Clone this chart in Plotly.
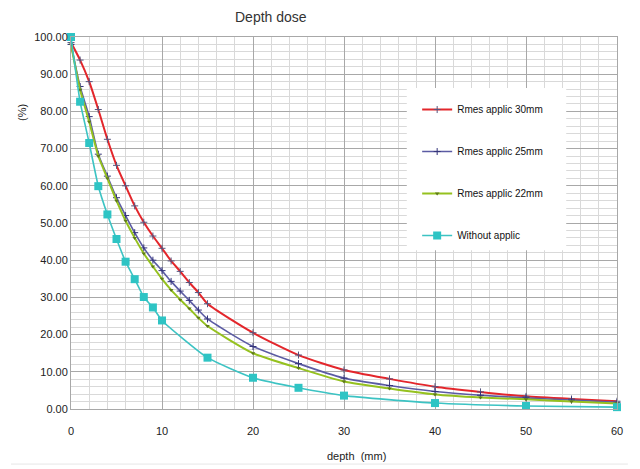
import plotly.graph_objects as go

# Depth (mm) sampling points
depth_applic = [0, 1, 2, 3, 4, 5, 6, 7, 8, 9, 10, 11, 12, 13, 14, 15,
                20, 25, 30, 35, 40, 45, 50, 55, 60]
dose_30mm = [98.5, 93.8, 88.0, 80.5, 72.5, 65.5, 60.0, 54.6, 50.2, 46.5, 43.2,
             39.8, 37.0, 34.0, 31.3, 28.3, 20.5, 14.5, 10.5, 8.1, 6.0, 4.6,
             3.4, 2.7, 2.1]
dose_25mm = [98.0, 86.7, 78.6, 68.5, 62.6, 56.8, 52.0, 47.4, 43.3, 40.0, 37.2,
             34.3, 31.7, 29.2, 26.6, 24.2, 16.8, 12.2, 8.3, 6.3, 4.7, 3.7,
             3.0, 2.4, 1.8]
dose_22mm = [98.0, 85.8, 77.2, 68.0, 62.0, 56.0, 50.6, 46.0, 41.8, 38.3, 35.0,
             32.0, 29.4, 27.0, 24.5, 22.3, 15.0, 11.0, 7.4, 5.5, 3.9, 3.1,
             2.6, 2.0, 1.5]
depth_without = [0, 1, 2, 3, 4, 5, 6, 7, 8, 9, 10, 15, 20, 25, 30, 40, 50, 60]
dose_without = [100.0, 82.6, 71.5, 59.9, 52.3, 45.7, 39.6, 34.9, 30.1, 27.3,
                23.8, 13.8, 8.4, 5.7, 3.6, 1.6, 0.8, 0.5]

series_names = ["Rmes applic 30mm", "Rmes applic 25mm", "Rmes applic 22mm",
                "Without applic"]

x_ticks = [0, 10, 20, 30, 40, 50, 60]
y_ticks = [0, 10, 20, 30, 40, 50, 60, 70, 80, 90, 100]

FONT = "Liberation Sans Narrow, Arial Narrow, Liberation Sans, Arial, sans-serif"

fig = go.Figure()

fig.add_trace(go.Scatter(
    x=depth_applic, y=dose_30mm, name=series_names[0], legendgroup="a",
    mode="lines+markers", line=dict(color="#e3262b", width=2, shape="spline", smoothing=0.6),
    marker=dict(symbol="cross-thin", size=5, line=dict(color="#55557f", width=1)),
    cliponaxis=False))
fig.add_trace(go.Scatter(
    x=depth_applic, y=dose_25mm, name=series_names[1], legendgroup="b",
    mode="lines+markers", line=dict(color="#5b5ba3", width=1.6, shape="spline", smoothing=0.6),
    marker=dict(symbol="cross-thin", size=5, line=dict(color="#34347a", width=1)),
    cliponaxis=False))
fig.add_trace(go.Scatter(
    x=depth_applic, y=dose_22mm, name=series_names[2], legendgroup="c",
    mode="lines+markers", line=dict(color="#95c11f", width=2, shape="spline", smoothing=0.6),
    marker=dict(symbol="triangle-down", size=4, color="#5e7a18"),
    cliponaxis=False))
fig.add_trace(go.Scatter(
    x=depth_without, y=dose_without, name=series_names[3], legendgroup="d",
    mode="lines+markers", line=dict(color="#3cc3c3", width=1.6, shape="spline", smoothing=0.5),
    marker=dict(symbol="square", size=8, color="#2ec4c4"),
    cliponaxis=False))

fig.update_layout(
    width=632, height=461, autosize=False,
    margin=dict(l=63, r=23, t=29, b=60),
    paper_bgcolor="white", plot_bgcolor="white",
    font=dict(family=FONT, size=11, color="#222"),
    showlegend=True,
    legend=dict(x=0.634, y=0.844, xanchor="left", yanchor="top",
                bgcolor="rgba(0,0,0,0)", borderwidth=0,
                font=dict(family=FONT, size=10, color="#111"),
                tracegroupgap=23, itemwidth=30),
)

fig.update_xaxes(
    range=[0, 60], tickvals=x_ticks, ticktext=[str(v) for v in x_ticks],
    showgrid=True, gridcolor="#a8a8a8", gridwidth=1,
    minor=dict(dtick=2, showgrid=True, gridcolor="#d9d9d9", gridwidth=1),
    showline=True, linecolor="#a8a8a8", mirror=True,
    zeroline=False, ticks="", ticklabelstandoff=12,
    tickfont=dict(family=FONT, size=11, color="#222"))
fig.update_yaxes(
    range=[0, 100], tickvals=y_ticks, tickformat=".2f",
    showgrid=True, gridcolor="#a8a8a8", gridwidth=1,
    minor=dict(dtick=2, showgrid=True, gridcolor="#d9d9d9", gridwidth=1),
    showline=True, linecolor="#a8a8a8", mirror=True,
    zeroline=False, ticks="",
    tickfont=dict(family=FONT, size=11, color="#222"))

# white legend panel
fig.add_shape(type="rect", xref="paper", yref="paper",
              x0=0.615, x1=0.907, y0=0.427, y1=0.863,
              fillcolor="white", line=dict(width=0), layer="above")
# faint bottom border line of the original image
fig.add_shape(type="line", xref="paper", yref="paper",
              x0=-0.11, x1=1.02, y0=-0.148, y1=-0.148,
              line=dict(color="#e6e6e6", width=1), layer="below")

fig.add_annotation(text="Depth dose", xref="paper", yref="paper",
                   x=(271 - 71) / 546, y=(409 - 17) / 372, showarrow=False,
                   xanchor="center", yanchor="middle",
                   font=dict(family="Liberation Sans, Arial", size=14, color="#333"))
fig.add_annotation(text="depth  (mm)", xref="paper", yref="paper",
                   x=(356 - 71) / 546, y=(409 - 456) / 372, showarrow=False,
                   xanchor="center", yanchor="middle",
                   font=dict(family=FONT, size=11, color="#222"))
fig.add_annotation(text="(%)", xref="paper", yref="paper",
                   x=(22 - 71) / 546, y=(409 - 113) / 372, showarrow=False,
                   xanchor="center", yanchor="middle", textangle=-90,
                   font=dict(family=FONT, size=11, color="#222"))

fig.write_html("out.html")
